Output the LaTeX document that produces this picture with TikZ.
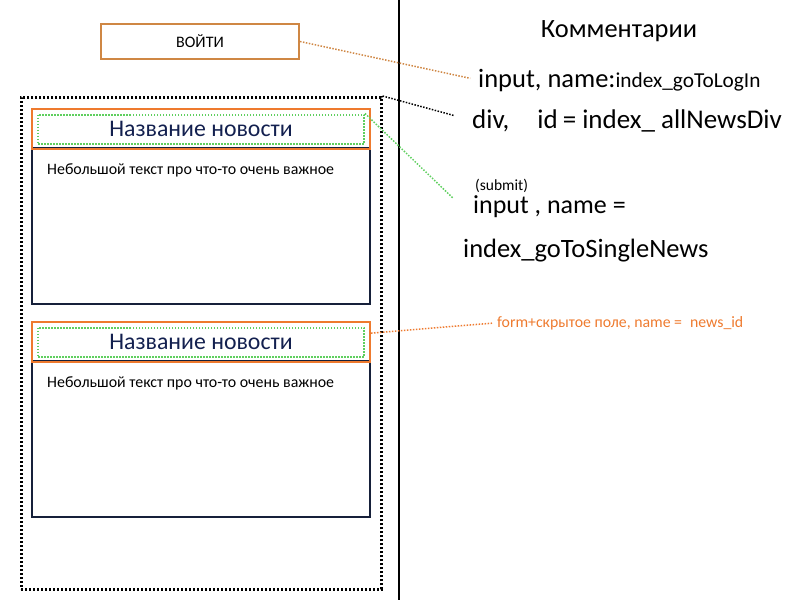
\documentclass[tikz,border=0pt]{standalone}
\usepackage{fontspec}
\setmainfont{Carlito}
\usetikzlibrary{positioning}
\definecolor{boxorange}{HTML}{CF8744}
\definecolor{headorange}{HTML}{EE7A2E}
\definecolor{navy}{HTML}{16203A}
\definecolor{titlenavy}{HTML}{13204F}
\definecolor{dotgreen}{HTML}{5FCF5F}

\begin{document}
\begin{tikzpicture}[x=1pt, y=-1pt,
  btn/.style={draw=#1, line width=2pt, inner sep=0pt, anchor=north west},
  link/.style={draw=#1, dash pattern=on 1.5pt off 1.5pt, line width=1.5pt},
  note/.style={anchor=base west, inner sep=0pt}]
  \useasboundingbox (0,0) rectangle (800,600);
  \draw[line width=2pt] (399,0) -- (399,600);
  \node[btn=boxorange, minimum width=198pt, minimum height=35pt, font=\fontsize{16}{19}\selectfont] (login) at (100,23) {ВОЙТИ};
  \node[btn=black, line width=2.6pt, dash pattern=on 2pt off 2pt, minimum width=360pt, minimum height=492pt] (allnews) at (20,96) {};
  \foreach \y/\n in {108/1,321/2} {
    \node[btn=navy, minimum width=338pt, minimum height=156pt] (body\n) at (31,\y+39) {};
    \node[btn=headorange, minimum width=338pt, minimum height=40pt] (head\n) at (31,\y) {};
    \node[draw=dotgreen, dash pattern=on 1.5pt off 1.5pt, line width=2pt, minimum width=326pt, minimum height=29pt, inner sep=0pt,
      text=titlenavy, font=\fontsize{23.8}{28}\selectfont] (title\n) at (head\n.center) {Название новости};
    \node[note, font=\fontsize{15.9}{19}\selectfont] (text\n) at (47,\y+66) {Небольшой текст про что-то очень важное};
  }
  \node[anchor=base, font=\fontsize{26.4}{31}\selectfont] (comments) at (619,37) {Комментарии};
  \node[note, font=\fontsize{26.5}{31}\selectfont] (loginnote) at (478,87) {input, name:{\fontsize{21.3}{25}\selectfont index\_goToLogIn}};
  \node[note, font=\fontsize{27}{32}\selectfont] (divnote) at (472,128) {div,\hspace{28pt}id\hspace{5pt}= index\_ allNewsDiv};
  \node[note, font=\fontsize{15.5}{18}\selectfont] (submit) at (475,190) {(submit)};
  \node[note, font=\fontsize{26}{30}\selectfont] (inputnote) at (473,213) {input , name =};
  \node[note, font=\fontsize{26.5}{31}\selectfont] (singlenews) at (463,257) {index\_goToSingleNews};
  \node[note, text=headorange, font=\fontsize{15.8}{19}\selectfont] (formnote) at (497,327) {form+скрытое поле, name =\hspace{8pt}news\_id};
  \draw[link=boxorange, shorten >=8pt] (login.east) -- (loginnote.west);
  \draw[link=black, shorten >=19pt] (allnews.north east) -- (divnote.west);
  \draw[link=dotgreen, shorten >=28pt] (title1.north east) -- (inputnote.south west);
  \draw[link=headorange, shorten >=5pt] (head2.3) -- (formnote.west);
\end{tikzpicture}
\end{document}
